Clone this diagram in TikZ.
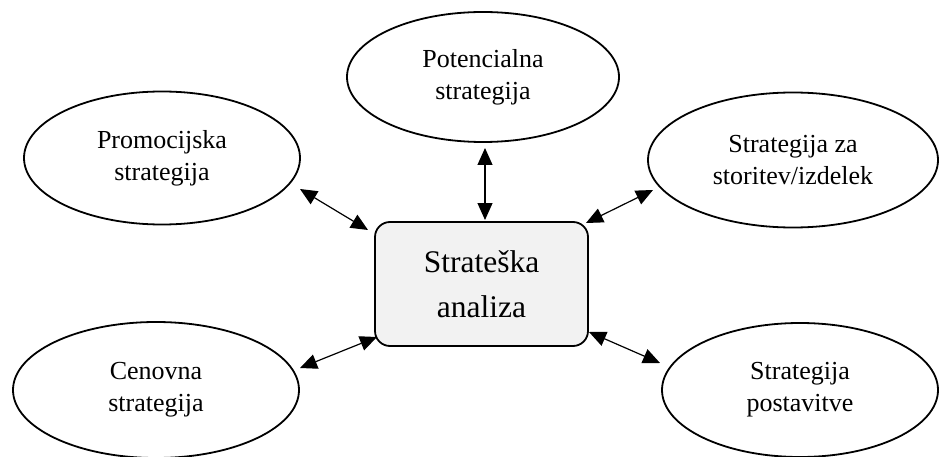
\documentclass[tikz,border=0pt]{standalone}
\usepackage{fontspec}
\setmainfont{Liberation Serif}
\usetikzlibrary{shapes.geometric,arrows.meta}
\definecolor{boxfill}{HTML}{F2F2F2}
\begin{document}
\begin{tikzpicture}[x=1pt,y=-1pt,
  oval/.style={draw, ellipse, line width=1.8pt, inner sep=0pt, align=center,
    font=\fontsize{26}{32}\selectfont},
  centerbox/.style={draw, rounded corners=15pt, line width=1.8pt, fill=boxfill,
    inner sep=0pt, align=center, font=\fontsize{31.5}{45}\selectfont},
  link/.style={line width=1.2pt, {Triangle[length=17pt,width=15pt]}-{Triangle[length=17pt,width=15pt]}}]
\useasboundingbox (0,0) rectangle (939,457);
\node[centerbox, minimum width=213pt, minimum height=124pt] (box) at (481.5,284) {Strateška\\analiza};
\node[oval, minimum width=272pt, minimum height=130pt] (pot) at (483,77) {Potencialna\\strategija};
\node[oval, minimum width=276pt, minimum height=133pt] (promo) at (162,158) {Promocijska\\strategija};
\node[oval, minimum width=290pt, minimum height=135pt] (stor) at (793,160) {Strategija za\\storitev/izdelek};
\node[oval, minimum width=286pt, minimum height=136pt] (cen) at (156,390) {Cenovna\\strategija};
\node[oval, minimum width=276pt, minimum height=134pt] (post) at (800,390) {Strategija\\postavitve};
\coordinate (p1) at (485,148);
\coordinate (p2) at (485,220);
\coordinate (a1) at (300,189);
\coordinate (a2) at (368,230);
\coordinate (b1) at (586,223);
\coordinate (b2) at (653,190);
\coordinate (c1) at (300,368);
\coordinate (c2) at (377,337);
\coordinate (d1) at (589,332);
\coordinate (d2) at (660,363);
\draw[link] (p1) -- (p2);
\draw[link] (a1) -- (a2);
\draw[link] (b1) -- (b2);
\draw[link] (c1) -- (c2);
\draw[link] (d1) -- (d2);
\end{tikzpicture}
\end{document}
